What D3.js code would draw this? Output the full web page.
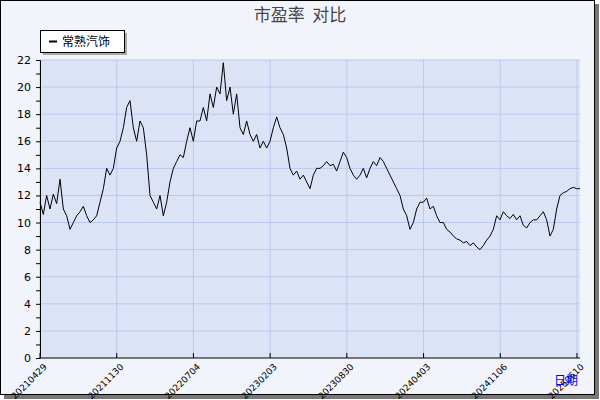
<!DOCTYPE html>
<html><head><meta charset="utf-8">
<script src="https://cdn.jsdelivr.net/npm/d3@7"></script>
<style>body{margin:0;background:#fff}</style>
</head><body>
<svg id="c" width="600" height="400"></svg>
<script>
var title = "市盈率  对比";
var series_name = "常熟汽饰";
var tick_labels = ["20210429","20211130","20220704","20230203","20230830","20240403","20241106","20250610"];
var pe_values = [11.5,10.6,12,11,12.1,11.4,13.2,11,10.5,9.5,10,10.5,10.8,11.2,10.5,10,10.2,10.5,11.5,12.5,14,13.5,14,15.5,16,17,18.5,19,17,16,17.5,17,15,12,11.5,11,12,10.5,11.5,13,14,14.5,15,14.8,16,17,16,17.5,17.5,18.5,17.5,19.5,18.5,20,19.5,21.8,19,20,18,19.5,17,16.5,17.5,16.5,16,16.5,15.5,16,15.5,16,17,17.8,17,16.5,15.5,14,13.5,13.8,13.2,13.5,13,12.5,13.5,14,14,14.2,14.5,14.2,14.3,13.8,14.5,15.2,14.8,14,13.5,13.2,13.5,14,13.3,14,14.5,14.2,14.8,14.5,14,13.5,13,12.5,12,11,10.5,9.5,10,11,11.5,11.5,11.8,11,11.2,10.5,10,10,9.5,9.3,9,8.8,8.7,8.5,8.6,8.3,8.5,8.2,8,8.3,8.7,9,9.5,10.5,10.2,10.8,10.5,10.3,10.6,10.2,10.5,9.8,9.6,10,10.2,10.2,10.5,10.8,10.2,9,9.5,11,12,12.2,12.3,12.5,12.6,12.5,12.5];
var y_ticks = d3.range(0, 23, 2);

var svg = d3.select('#c');
var m = {l:40, r:580, t:60, b:358};

// frame + shadow
svg.append('rect').attr('x',4).attr('y',4).attr('width',595).attr('height',395).attr('fill','#777');
svg.append('rect').attr('x',0.5).attr('y',0.5).attr('width',594).attr('height',394).attr('fill','#f2f4fc').attr('stroke','#000');

svg.append('text').attr('x',300).attr('y',21).attr('text-anchor','middle').style('white-space','pre')
   .attr('font-family','Noto Sans CJK SC').attr('font-size',17).attr('fill','#444').text(title);

var x = d3.scaleLinear().domain([0, pe_values.length-1]).range([m.l, m.r]);
var y = d3.scaleLinear().domain([0,22]).range([m.b, m.t]);

svg.append('rect').attr('x',m.l).attr('y',m.t).attr('width',m.r-m.l).attr('height',m.b-m.t).attr('fill','#dde3f7');

var xt = d3.scaleLinear().domain([0, tick_labels.length-1]).range([m.l, 577]);
svg.selectAll('.gy').data(y_ticks.slice(1)).enter().append('line')
   .attr('x1',m.l).attr('x2',m.r).attr('y1',d=>y(d)).attr('y2',d=>y(d)).attr('stroke','#b9c8ee');
svg.selectAll('.gx').data(tick_labels).enter().append('line')
   .attr('x1',(d,i)=>xt(i)).attr('x2',(d,i)=>xt(i)).attr('y1',m.t).attr('y2',m.b).attr('stroke','#b9c8ee');

var ya = d3.axisLeft(y).tickValues(d3.range(0,23,1)).tickSize(4).tickFormat(d => d%2==0 ? d : '');
svg.append('g').attr('transform','translate('+m.l+',0)').call(ya)
   .call(g=>g.selectAll('text').attr('font-family','DejaVu Sans').attr('font-size',11).attr('fill','#000').attr('dx',-2))
   .call(g=>g.select('.domain').attr('stroke','#000'));

svg.append('line').attr('x1',m.l).attr('x2',m.r).attr('y1',m.b).attr('y2',m.b).attr('stroke','#000');
tick_labels.forEach(function(t,i){
    svg.append('line').attr('x1',xt(i)).attr('x2',xt(i)).attr('y1',m.b-5).attr('y2',m.b).attr('stroke','#000');
    svg.append('text').attr('transform','translate('+(xt(i)+3)+','+(m.b+5)+') rotate(-45)')
       .attr('text-anchor','end').attr('font-family','DejaVu Sans').attr('font-size',9).attr('dy','0.7em').text(t);
});

svg.append('path').datum(pe_values).attr('fill','none').attr('stroke','#000').attr('stroke-width',1)
   .attr('d', d3.line().x((d,i)=>x(i)).y(d=>y(d)));

svg.append('text').attr('x',578).attr('y',385).attr('text-anchor','end').attr('fill','#0000ee')
   .attr('font-family','Noto Sans CJK SC').attr('font-size',12).text('日期');

// legend
svg.append('rect').attr('x',43).attr('y',33).attr('width',84).attr('height',22).attr('fill','#aaa');
svg.append('rect').attr('x',40.5).attr('y',30.5).attr('width',84).attr('height',22).attr('fill','#fff').attr('stroke','#000');
svg.append('line').attr('x1',49).attr('x2',57).attr('y1',41.5).attr('y2',41.5).attr('stroke','#000').attr('stroke-width',2);
svg.append('text').attr('x',62).attr('y',46).attr('font-family','Noto Sans CJK SC').attr('font-size',12).text(series_name);
</script>
</body></html>
